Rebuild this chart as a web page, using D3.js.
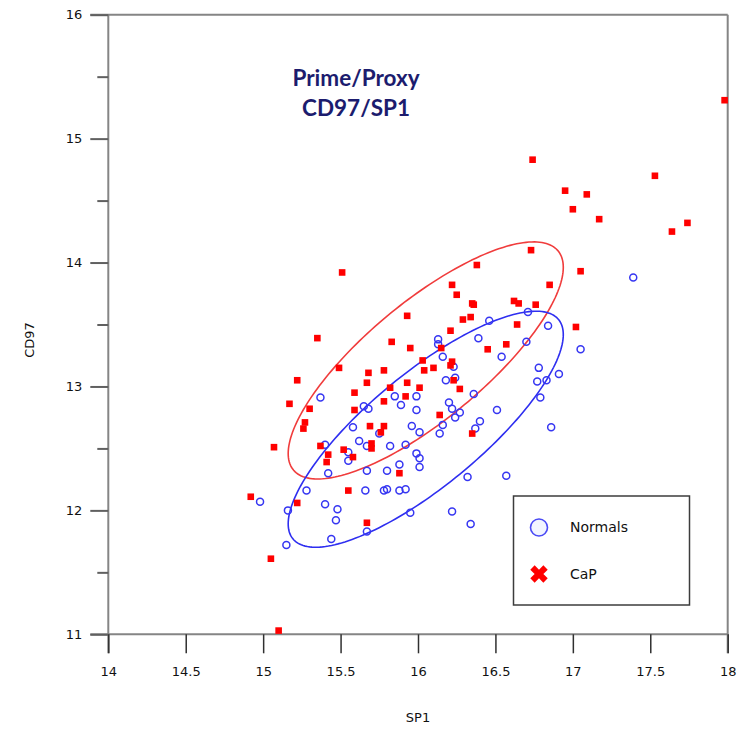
<!DOCTYPE html>
<html>
<head>
<meta charset="utf-8">
<script src="https://cdn.jsdelivr.net/npm/d3@7"></script>
<style>
  html, body { margin: 0; padding: 0; background: #fff; }
  svg { display: block; }
</style>
</head>
<body>
<svg id="chart" width="747" height="730"></svg>
<script>
// ---- data ----
const xTicks = [14, 14.5, 15, 15.5, 16, 16.5, 17, 17.5, 18];
const yMajorTicks = [11, 12, 13, 14, 15, 16];
const yMinorTicks = [11.5, 12.5, 13.5, 14.5, 15.5];
const titleLines = ["Prime/Proxy", "CD97/SP1"];
const seriesNames = ["Normals", "CaP"];

const normalsSP1 = [17.39,16.71,16.84,16.70,17.05,16.54,16.78,16.91,16.77,16.83,16.79,16.86,16.46,16.39,16.13,16.13,16.16,16.23,16.24,16.18,16.36,16.20,16.22,16.27,16.24,16.51,16.16,16.14,16.40,16.37,15.92,15.99,15.99,15.96,16.01,15.89,15.85,15.99,16.01,16.01,16.32,16.57,15.95,16.22,16.34,15.37,15.65,15.68,15.58,15.75,15.62,15.67,15.82,15.40,15.55,15.55,15.88,15.80,15.67,15.42,15.28,15.66,15.78,15.80,15.88,15.92,14.98,15.40,15.48,15.16,15.47,15.67,15.44,15.15];
const normalsCD97 = [13.88,13.60,13.49,13.36,13.30,13.24,13.15,13.10,13.04,13.05,12.91,12.67,13.53,13.39,13.38,13.34,13.24,13.16,13.07,13.05,12.94,12.87,12.82,12.79,12.75,12.81,12.69,12.62,12.72,12.66,12.53,12.92,12.81,12.68,12.63,12.85,12.92,12.46,12.42,12.35,12.27,12.28,11.98,11.99,11.89,12.91,12.84,12.82,12.67,12.62,12.56,12.52,12.52,12.53,12.47,12.40,12.37,12.32,12.32,12.30,12.16,12.16,12.16,12.17,12.16,12.17,12.07,12.05,12.01,12.00,11.92,11.83,11.77,11.72];

const capSP1 = [17.98,16.74,17.53,16.95,17.09,17.00,17.17,17.74,17.64,16.73,17.05,16.85,16.62,16.65,16.76,16.64,17.02,16.57,16.38,16.22,16.25,16.35,16.36,16.29,16.34,16.21,16.15,16.45,16.22,16.21,16.10,16.03,16.04,16.23,16.27,16.01,15.93,15.92,15.93,15.83,15.95,15.78,15.68,15.67,15.82,15.59,15.78,15.59,15.51,15.35,15.49,15.22,15.17,15.30,15.27,15.26,15.69,15.78,15.76,15.07,15.37,15.70,15.70,15.52,15.42,15.58,15.41,15.88,15.55,14.92,15.22,15.67,15.05,15.10,16.14,16.35];
const capCD97 = [15.31,14.83,14.70,14.58,14.55,14.43,14.35,14.32,14.25,14.10,13.93,13.82,13.69,13.67,13.66,13.50,13.48,13.34,13.98,13.82,13.74,13.67,13.66,13.54,13.56,13.45,13.31,13.30,13.20,13.17,13.15,13.21,13.13,13.05,12.98,12.99,13.03,12.92,13.57,13.36,13.31,13.13,13.11,13.03,12.99,12.95,12.88,12.81,13.92,13.39,13.15,13.05,12.86,12.82,12.71,12.66,12.68,12.68,12.63,12.51,12.52,12.54,12.50,12.49,12.45,12.43,12.39,12.30,12.16,12.11,12.06,11.90,11.61,11.03,12.77,12.62];

// ellipse parameters (data units): centre and 2x2 shape matrix [sxx, sxy, syy]
const normalsEllipse = { cx: 16.05, cy: 12.655, sxx: 0.789, sxy: 0.678, syy: 0.907 };
const capEllipse     = { cx: 16.05, cy: 13.21,  sxx: 0.789, sxy: 0.667, syy: 0.915 };

// ---- drawing ----
const svg = d3.select("#chart");
const x = d3.scaleLinear().domain([14, 18]).range([108.3, 727.7]);
const y = d3.scaleLinear().domain([11, 16]).range([634.3, 14.7]);

const axisColor = "#858585";
const tickFont = "DejaVu Sans, sans-serif";

// frame
const frame = svg.append("g").attr("stroke", axisColor).attr("stroke-width", 2).attr("fill", "none");
frame.append("line").attr("x1", x(14) - 18).attr("x2", x(18)).attr("y1", y(16)).attr("y2", y(16));
frame.append("line").attr("x1", x(14) - 18).attr("x2", x(18)).attr("y1", y(11)).attr("y2", y(11));
frame.append("line").attr("x1", x(14)).attr("x2", x(14)).attr("y1", y(16)).attr("y2", y(11) + 19);
frame.append("line").attr("x1", x(18)).attr("x2", x(18)).attr("y1", y(16)).attr("y2", y(11) + 19);

// y axis major
const yAxis = svg.append("g").attr("transform", `translate(${x(14)},0)`)
  .call(d3.axisLeft(y).tickValues(yMajorTicks).tickSize(18).tickPadding(8).tickFormat(d3.format("d")));
yAxis.select(".domain").remove();
yAxis.selectAll(".tick line").attr("stroke", "#606060").attr("stroke-width", 2);
yAxis.selectAll(".tick text").attr("font-family", tickFont).attr("font-size", 13).attr("fill", "#111");

// y axis minor
const yMinor = svg.append("g").attr("transform", `translate(${x(14)},0)`)
  .call(d3.axisLeft(y).tickValues(yMinorTicks).tickSize(11).tickFormat(""));
yMinor.select(".domain").remove();
yMinor.selectAll(".tick line").attr("stroke", "#606060").attr("stroke-width", 2);

// x axis
const xAxis = svg.append("g").attr("transform", `translate(0,${y(11)})`)
  .call(d3.axisBottom(x).tickValues(xTicks).tickSize(19).tickPadding(13).tickFormat(d => String(d)));
xAxis.select(".domain").remove();
xAxis.selectAll(".tick line").attr("stroke", "#303030").attr("stroke-width", 1.5);
xAxis.selectAll(".tick text").attr("font-family", tickFont).attr("font-size", 13).attr("fill", "#111");

// axis titles
svg.append("text").attr("x", 418).attr("y", 722).attr("text-anchor", "middle")
  .attr("font-family", tickFont).attr("font-size", 13).attr("fill", "#111").text("SP1");
svg.append("text").attr("transform", "translate(34,340) rotate(-90)").attr("text-anchor", "middle")
  .attr("font-family", tickFont).attr("font-size", 13).attr("fill", "#111").text("CD97");

// title
svg.append("g").selectAll("text").data(titleLines).join("text")
  .attr("x", 356).attr("y", (d, i) => 86 + i * 30).attr("text-anchor", "middle")
  .attr("font-family", "Lato, 'Open Sans', sans-serif").attr("font-weight", 700).attr("font-size", 22.5)
  .attr("fill", "#1c1c6e").text(d => d);

// ellipses
function ellipsePoints(e) {
  const l11 = Math.sqrt(e.sxx), l21 = e.sxy / l11, l22 = Math.sqrt(e.syy - l21 * l21);
  return d3.range(0, 200).map(i => {
    const t = i / 200 * 2 * Math.PI, c = Math.cos(t), s = Math.sin(t);
    return [e.cx + l11 * c, e.cy + l21 * c + l22 * s];
  });
}
const ellLine = d3.line().x(d => x(d[0])).y(d => y(d[1])).curve(d3.curveLinearClosed);
svg.append("path").attr("d", ellLine(ellipsePoints(capEllipse)))
  .attr("fill", "none").attr("stroke", "#f03c3c").attr("stroke-width", 1.6);
svg.append("path").attr("d", ellLine(ellipsePoints(normalsEllipse)))
  .attr("fill", "none").attr("stroke", "#2e2ef0").attr("stroke-width", 1.6);

// points
const normals = normalsSP1.map((v, i) => [v, normalsCD97[i]]);
const cap = capSP1.map((v, i) => [v, capCD97[i]]);

svg.append("g").selectAll("circle").data(normals).join("circle")
  .attr("cx", d => x(d[0])).attr("cy", d => y(d[1])).attr("r", 3.5)
  .attr("fill", "none").attr("stroke", "#3636f2").attr("stroke-width", 1.5);

svg.append("g").selectAll("rect").data(cap).join("rect")
  .attr("x", d => x(d[0]) - 3.3).attr("y", d => y(d[1]) - 3.3)
  .attr("width", 6.6).attr("height", 6.6).attr("fill", "#ff0000");

// legend
const lg = svg.append("g");
lg.append("rect").attr("x", 513.5).attr("y", 496).attr("width", 176).attr("height", 109)
  .attr("fill", "#fff").attr("stroke", "#3c3c3c").attr("stroke-width", 1.5);
lg.append("circle").attr("cx", 539).attr("cy", 527.5).attr("r", 8.5)
  .attr("fill", "#f2f5ff").attr("stroke", "#4a4af5").attr("stroke-width", 1.6);
lg.append("path").attr("d", d3.symbol(d3.symbolCross, 190)())
  .attr("transform", "translate(539,574) rotate(45)").attr("fill", "#ff0000");
lg.selectAll("text").data(seriesNames).join("text")
  .attr("x", 570).attr("y", (d, i) => 532 + i * 47)
  .attr("font-family", tickFont).attr("font-size", 14).attr("fill", "#111").text(d => d);
</script>
</body>
</html>
